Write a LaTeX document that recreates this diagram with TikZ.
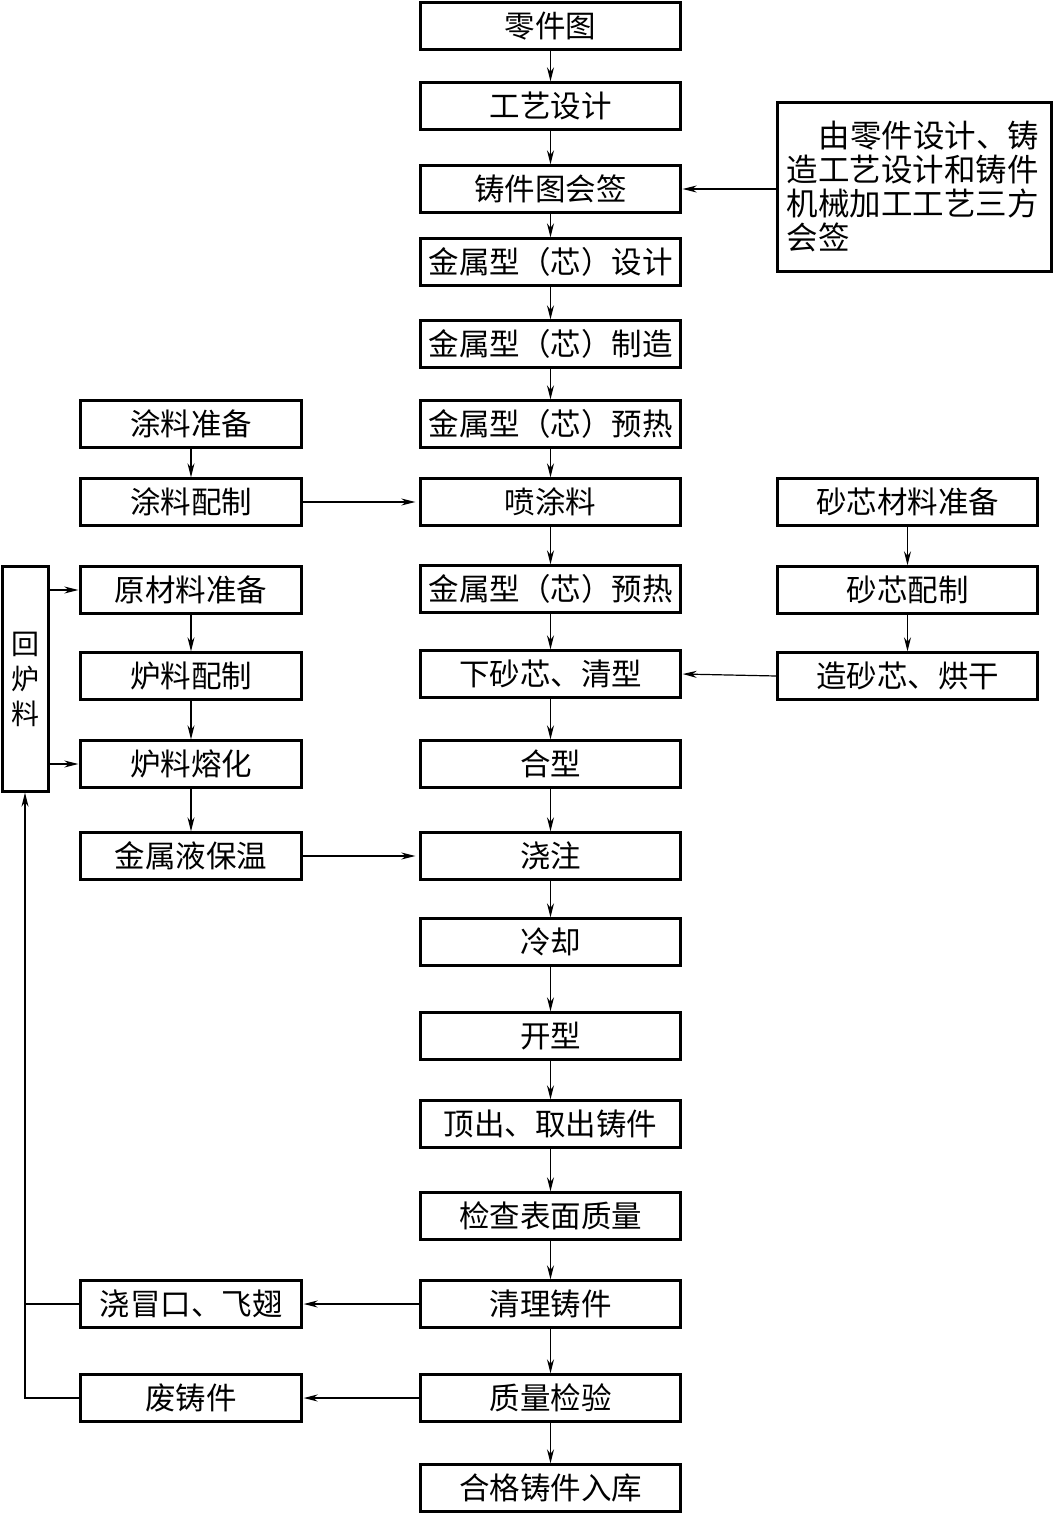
\documentclass[tikz,border=0pt]{standalone}
\usepackage{fontspec}
\newfontfamily\cjk{Noto Sans CJK SC}
\usetikzlibrary{arrows.meta}
\begin{document}
\begin{tikzpicture}[x=1pt,y=-1pt,
  box/.style={draw,line width=2.4pt,inner sep=0pt,minimum height=47pt,font=\cjk\fontsize{30.5}{34}\selectfont},
  cbox/.style={box,minimum width=260pt},
  lbox/.style={box,minimum width=221pt},
  arr/.style={line width=1.2pt,-{Stealth[length=14pt,width=7pt]}},
  ln/.style={line width=1.2pt}]
\useasboundingbox (0,0) rectangle (1054,1514);
\fill[white] (0,0) rectangle (1054,1514);
% center column
\node[cbox] (c1) at (550.5,26) {零件图};
\node[cbox] (c2) at (550.5,106) {工艺设计};
\node[cbox] (c3) at (550.5,189) {铸件图会签};
\node[cbox] (c4) at (550.5,262) {金属型（芯）设计};
\node[cbox] (c5) at (550.5,344) {金属型（芯）制造};
\node[cbox] (c6) at (550.5,424) {金属型（芯）预热};
\node[cbox] (c7) at (550.5,502) {喷涂料};
\node[cbox] (c8) at (550.5,589) {金属型（芯）预热};
\node[cbox] (c9) at (550.5,674) {下砂芯、清型};
\node[cbox] (c10) at (550.5,764) {合型};
\node[cbox] (c11) at (550.5,856) {浇注};
\node[cbox] (c12) at (550.5,942) {冷却};
\node[cbox] (c13) at (550.5,1036) {开型};
\node[cbox] (c14) at (550.5,1124) {顶出、取出铸件};
\node[cbox] (c15) at (550.5,1216) {检查表面质量};
\node[cbox] (c16) at (550.5,1304) {清理铸件};
\node[cbox] (c17) at (550.5,1398) {质量检验};
\node[cbox] (c18) at (550.5,1488) {合格铸件入库};
% left column
\node[lbox] (l1) at (191,424) {涂料准备};
\node[lbox] (l2) at (191,502) {涂料配制};
\node[lbox] (l3) at (191,590) {原材料准备};
\node[lbox] (l4) at (191,676) {炉料配制};
\node[lbox] (l5) at (191,764) {炉料熔化};
\node[lbox] (l6) at (191,856) {金属液保温};
\node[lbox] (l7) at (191,1304) {浇冒口、飞翅};
\node[lbox] (l8) at (191,1398) {废铸件};
% right column
\node[cbox] (r1) at (907.5,502) {砂芯材料准备};
\node[cbox] (r2) at (907.5,590) {砂芯配制};
\node[cbox] (r3) at (907.5,676) {造砂芯、烘干};
% note
\node[box,minimum width=274pt,minimum height=169pt,align=left,text width=256pt,font=\cjk\fontsize{31.5}{34}\selectfont] (n) at (914.5,187)
  {\hspace*{32pt}由零件设计、铸\\造工艺设计和铸件\\机械加工工艺三方\\会签};
% return box
\node[box,minimum width=46pt,minimum height=225pt,align=center,font=\cjk\fontsize{28}{35}\selectfont] (h) at (25.5,679) {回\\炉\\料};
% center arrows
\foreach \a/\b in {c1/c2,c2/c3,c3/c4,c4/c5,c5/c6,c6/c7,c7/c8,c8/c9,c9/c10,c10/c11,c11/c12,c12/c13,c13/c14,c14/c15,c15/c16,c16/c17,c17/c18,l1/l2,l3/l4,l4/l5,l5/l6,r1/r2,r2/r3}
  \draw[arr] (\a.south) -- (\b.north);
% horizontal arrows
\draw[arr,shorten >=4pt] (l2.east) -- (c7.west);
\draw[arr,shorten >=4pt] (l6.east) -- (c11.west);
\draw[arr,shorten >=1pt] (n.west |- c3) -- (c3.east);
\draw[arr,shorten >=1pt] (r3.west) -- (c9.east);
\draw[arr,shorten >=1pt] (c16.west) -- (l7.east);
\draw[arr,shorten >=1pt] (c17.west) -- (l8.east);
\draw[arr,shorten >=1pt] (h.east |- l3) -- (l3.west);
\draw[arr,shorten >=1pt] (h.east |- l5) -- (l5.west);
% return loop
\coordinate (k1) at (25,1304);
\coordinate (k2) at (25,1398);
\draw[ln] (l7.west) -- (k1);
\draw[arr] (l8.west) -- (k2) -- (k2 |- h.south);
\end{tikzpicture}
\end{document}
